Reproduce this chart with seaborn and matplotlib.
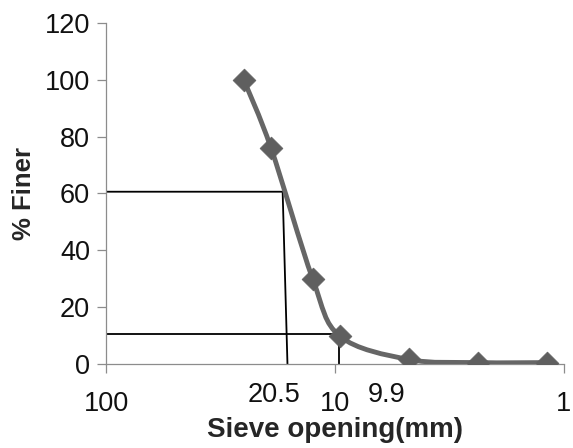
import numpy as np
import pandas as pd
import matplotlib
matplotlib.use("Agg")
import matplotlib.pyplot as plt
import seaborn as sns
from matplotlib.path import Path
from matplotlib.patches import PathPatch

# ---- data ----
sieve_mm = [25.0, 19.0, 12.5, 9.5, 4.75, 2.36, 1.18]
percent_finer = [100.0, 76.0, 30.0, 9.8, 1.6, 0.5, 0.5]
d60_line_x = [100.0, 16.9, 16.1]
d60_line_y = [60.6, 60.6, 0.0]
d10_line_x = [100.0, 9.6, 9.6]
d10_line_y = [10.4, 10.4, 0.0]
y_ticks = [0, 20, 40, 60, 80, 100, 120]
x_ticks = [100, 10, 1]
x_tick_labels = ["100", "10", "1"]
extra_labels = ["20.5", "9.9"]
extra_label_x = [18.5, 5.95]

df = pd.DataFrame({"sieve": sieve_mm, "finer": percent_finer})

sns.set_style("white")
plt.rcParams['font.family'] = ['Liberation Sans', 'DejaVu Sans']

fig = plt.figure(figsize=(5.73, 4.48), dpi=100)
ax = fig.add_axes([0.185, 0.1875, 0.7985, 0.7615])

ax.set_xscale("log")
ax.set_xlim(100, 1)
ax.set_ylim(0, 120)

# Excel-style smoothed line through the points (Bezier in log-x space)
u = np.log10(np.array(sieve_mm))
v = np.array(percent_finer)
n = len(u)
verts = [(10 ** u[0], v[0])]
codes = [Path.MOVETO]
for i in range(n - 1):
    p0 = (u[max(i - 1, 0)], v[max(i - 1, 0)])
    p1 = (u[i], v[i])
    p2 = (u[i + 1], v[i + 1])
    p3 = (u[min(i + 2, n - 1)], v[min(i + 2, n - 1)])
    c1 = (p1[0] + (p2[0] - p0[0]) / 6, p1[1] + (p2[1] - p0[1]) / 6)
    c2 = (p2[0] - (p3[0] - p1[0]) / 6, p2[1] - (p3[1] - p1[1]) / 6)
    verts += [(10 ** c1[0], c1[1]), (10 ** c2[0], c2[1]), (10 ** p2[0], p2[1])]
    codes += [Path.CURVE4] * 3
curve = PathPatch(Path(verts, codes), fill=False, edgecolor="#666666", lw=3.5,
                  capstyle="round", joinstyle="round", zorder=3)
ax.add_patch(curve)

# reference lines
ax.plot(d60_line_x, d60_line_y, color="black", lw=1.3, zorder=2)
ax.plot(d10_line_x, d10_line_y, color="black", lw=1.3, zorder=2)

sns.scatterplot(data=df, x="sieve", y="finer", marker="D", s=135,
                color="#5f5f5f", edgecolor="#5f5f5f", linewidth=0.5, ax=ax, zorder=4)

ax.set_yticks(y_ticks)
ax.set_yticklabels([str(t) for t in y_ticks])
ax.set_xticks(x_ticks)
ax.set_xticklabels(x_tick_labels)
ax.xaxis.set_minor_locator(matplotlib.ticker.NullLocator())

for lab, xv in zip(extra_labels, extra_label_x):
    ax.annotate(lab, xy=(xv, 0), xycoords=("data", "axes fraction"),
                xytext=(0, -13), textcoords="offset points",
                ha="center", va="top", fontsize=19.5, color="#111111")

ax.tick_params(axis="both", which="major", direction="out", length=6.5, width=0.9,
               color="#8c8c8c", labelsize=19.5, labelcolor="#111111", pad=5, left=True, bottom=True)
ax.tick_params(axis="x", pad=13)

for side in ["top", "right"]:
    ax.spines[side].set_visible(False)
for side in ["left", "bottom"]:
    ax.spines[side].set_color("#8c8c8c")
    ax.spines[side].set_linewidth(0.9)

ax.set_xlabel("Sieve opening(mm)", fontsize=20, fontweight="bold", labelpad=0)
ax.set_ylabel("% Finer", fontsize=18.5, fontweight="bold", labelpad=6)
ax.grid(False)

fig.savefig("out.png", dpi=100)
